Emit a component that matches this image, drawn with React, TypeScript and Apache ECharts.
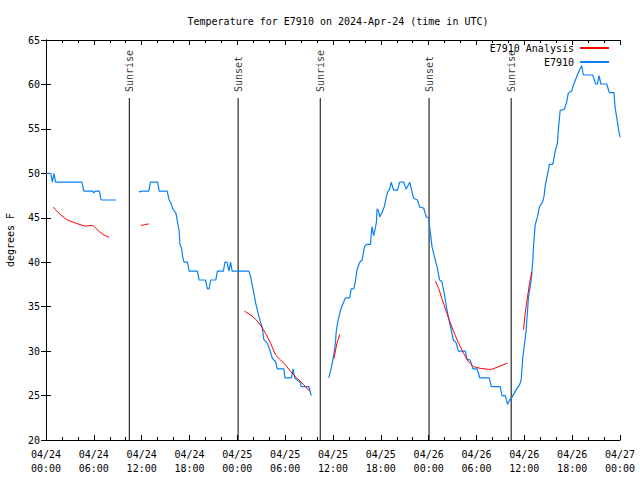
import React, { useEffect, useRef } from "react";
import * as echarts from "echarts";

// ---- data (x in hours since 2024-04-24 00:00 UTC, y in degrees F) ----
const GAP = "-";
const obsHours: number[] = [
  0.0, 0.6, 0.8, 1.0, 1.2, 4.5, 4.75, 5.85, 6.0, 6.15, 6.7, 6.9, 8.8,
  9.5,
  11.68, 11.8, 12.0, 12.9, 13.1, 14.0, 14.2, 15.2, 15.45, 15.7, 15.9, 16.3, 16.5, 16.7, 16.8, 17.0, 17.15, 17.3, 17.75, 17.95,
  19.0, 19.2, 20.0, 20.25, 20.45, 20.65, 21.3, 21.5, 22.25, 22.45, 22.7, 22.95, 23.15, 23.35, 25.45, 25.65, 26.08, 26.3, 26.7,
  27.13, 27.33, 27.76, 28.09, 28.39, 28.8, 29.0, 29.84, 29.96, 30.77, 31.0, 31.18, 31.93, 32.0, 32.97, 33.27,
  34.0,
  35.48, 35.9, 36.1, 36.3, 36.4, 36.6, 36.94, 37.15, 37.57, 38.1, 38.28, 38.6, 38.8, 39.0, 39.35, 39.66, 39.95, 40.2, 40.7,
  40.8, 40.9, 41.1, 41.3, 41.45, 41.53, 41.74, 41.86, 42.16, 42.45, 42.7, 42.9, 43.1, 43.3, 43.6, 44.1, 44.36, 44.87, 45.17,
  45.62, 46.1, 46.6, 46.87, 47.37, 47.7, 48.0, 48.12, 48.42, 48.83, 49.05, 49.37, 49.66, 49.96, 50.3, 50.7, 51.1, 51.47, 51.7,
  52.6, 52.8, 53.2, 53.55, 54.1, 54.4, 55.6, 55.85, 56.97, 57.2, 57.6, 57.9, 58.15, 58.44, 59.0, 59.4, 59.6, 59.8, 59.98, 60.23,
  60.52, 60.8, 60.94, 61.06, 61.15, 61.36, 61.65, 61.9, 62.3, 62.5, 62.6, 62.8, 63.15, 63.57, 63.86, 64.15, 64.27, 64.5, 65.0,
  65.33, 65.5, 65.95, 66.16, 66.58, 67.0, 67.2, 67.4, 68.58, 68.95, 69.17, 69.37, 69.6, 70.33, 70.67, 71.25, 71.37, 71.6, 71.8, 72.0,
];
const obsTemps: (number | string)[] = [
  50, 50, 49, 50, 49, 49, 48, 48, 47.8, 48, 48, 47, 47,
  GAP,
  48, 47.9, 48, 48, 49, 49, 48, 48, 47, 46.6, 46, 45.5, 44.5, 43.5, 42, 41.6, 40.6, 40, 40, 39,
  39, 38, 38, 37, 37, 38, 38, 39, 39, 40, 40, 39, 40, 39, 39, 38.4, 36.5, 35.4, 33.9,
  32.6, 31.3, 30.9, 30.1, 29.2, 28.8, 28, 28, 27, 27, 28, 27, 26.4, 26, 26, 25,
  GAP,
  27, 28.6, 29.6, 30.9, 32.2, 33.3, 34.6, 35.1, 36, 36, 37, 37, 37.8, 39.1, 40, 40.25, 41.75, 42, 42,
  43.25, 44, 43, 43.8, 44.5, 46, 45.7, 45.1, 45.6, 46.3, 47.4, 48, 48.2, 49, 48.1, 48.1, 49, 49, 48.2,
  49, 47.2, 47, 46.2, 46.1, 45.1, 45, 44, 41.75, 40.25, 39.5, 38, 37.8, 36.5, 34.6, 32.9, 31.25, 30.9, 30,
  30, 29.1, 29, 28, 28, 27, 27, 26, 26, 25, 25, 24, 24.5, 24.8, 25.7, 26.2, 26.75, 29.2, 30.5, 32.4,
  36.1, 37.6, 38.75, 40.25, 41.75, 44.2, 45.1, 46.25, 46.8, 47.56, 48.5, 49.44, 51, 51, 52.44, 53.4, 54.9, 57.1, 57.2,
  58.06, 59, 59.3, 59.94, 60.9, 61.8, 62.1, 61.06, 61.06, 60.05, 60.05, 61, 60.05, 60.05, 59.07, 59.07, 57.5, 56.2, 55.06, 54.05,
];

const anaHours: number[] = [
  0.92, 1.3, 1.88, 2.3, 2.7, 3.55, 4.38, 5.0, 5.3, 5.63, 5.85, 6.05, 6.68, 7.3, 7.93,
  9.5,
  11.9, 12.3, 12.4, 12.9,
  18.0,
  24.9, 25.67, 26.3, 26.9, 27.55, 28.17, 28.8, 29.43, 30.05, 30.68, 31.5, 32.35, 33.1,
  34.5,
  36.1, 36.5, 36.85,
  42.0,
  48.83, 49.25, 49.66, 50.08, 50.5, 51.12, 51.75, 52.38, 53.0, 53.63, 54.47, 55.5, 55.93, 56.76, 57.89,
  58.5,
  59.9, 60.1, 60.4, 60.65, 60.94,
];
const anaTemps: (number | string)[] = [
  46.2, 45.8, 45.3, 45.0, 44.75, 44.45, 44.2, 44.05, 44.1, 44.15, 44.1, 44.0, 43.45, 43.05, 42.8,
  GAP,
  44.15, 44.2, 44.25, 44.3,
  GAP,
  34.5, 34.06, 33.58, 32.94, 32.0, 30.88, 29.56, 29.0, 28.44, 27.7, 26.94, 26.2, 25.45,
  GAP,
  29.1, 30.9, 31.9,
  GAP,
  37.9, 37.06, 35.9, 34.8, 33.7, 32.2, 30.9, 29.75, 28.8, 28.25, 28.06, 27.95, 27.95, 28.25, 28.65,
  GAP,
  32.4, 34.25, 36.1, 37.6, 38.9,
];

const sunHours: number[] = [10.45, 24.1, 34.4, 48.05, 58.35];
const sunNames: string[] = ["Sunrise", "Sunset", "Sunrise", "Sunset", "Sunrise"];
const SUN_LINE_TOP = 58.47;

const yTicks = { min: 20, max: 65, step: 5 };
const xTicks = { min: 0, max: 72, step: 6 };
const START_DAY = 24;
const MONTH = "04";

const FONT = "'DejaVu Sans Mono', 'Liberation Mono', monospace";
const pad = (n: number) => (n < 10 ? "0" + n : "" + n);

export default function App() {
  const ref = useRef<HTMLDivElement>(null);
  useEffect(() => {
    if (!ref.current) return;
    const chart = echarts.init(ref.current, undefined, { renderer: "svg" });
    const obsData = obsHours.map((h, i) => [h, obsTemps[i]]);
    const anaData = anaHours.map((h, i) => [h, anaTemps[i]]);

    const sunSeries: any[] = sunHours.map((h) => ({
      type: "line",
      name: "sun",
      data: [
        [h, yTicks.min],
        [h, SUN_LINE_TOP],
      ],
      symbol: "none",
      lineStyle: { color: "#000", width: 1 },
      silent: true,
      z: 1,
    }));

    const axisText = { color: "#000", fontFamily: FONT, fontSize: 10 };

    chart.setOption({
      animation: false,
      backgroundColor: "#fff",
      title: {
        text: "Temperature for E7910 on 2024-Apr-24 (time in UTC)",
        left: 333,
        top: 11,
        textAlign: "center",
        textStyle: { ...axisText, fontWeight: "normal" },
      },
      legend: {
        data: ["E7910 Analysis", "E7910"],
        orient: "vertical",
        right: 30,
        top: 43,
        padding: 0,
        align: "right",
        itemWidth: 29,
        itemHeight: 10,
        itemGap: 4,
        itemStyle: { opacity: 0 },
        textStyle: { ...axisText, padding: [0, 1, 0, 0] },
      },
      grid: {
        left: 46,
        right: 20,
        top: 40,
        bottom: 40,
        show: false,
        containLabel: false,
        outerBoundsMode: "none",
      },
      xAxis: [
        {
          type: "value",
          min: xTicks.min,
          max: xTicks.max,
          interval: xTicks.step,
          position: "bottom",
          axisLine: { show: true, lineStyle: { color: "#000", width: 1 } },
          axisTick: { show: true, inside: true, length: 5, lineStyle: { color: "#000" } },
          minorTick: { show: true, splitNumber: 3, length: 3, lineStyle: { color: "#000" } },
          splitLine: { show: false },
          axisLabel: {
            ...axisText,
            margin: 7,
            lineHeight: 14,
            formatter: (v: number) => {
              const d = START_DAY + Math.floor(v / 24);
              const hh = v % 24;
              return `${MONTH}/${d}\n${pad(hh)}:00`;
            },
          },
        },
        {
          type: "value",
          min: xTicks.min,
          max: xTicks.max,
          interval: xTicks.step,
          position: "top",
          axisLine: { show: true, lineStyle: { color: "#000", width: 1 } },
          axisTick: { show: true, inside: true, length: 5, lineStyle: { color: "#000" } },
          minorTick: { show: true, splitNumber: 3, length: 3, lineStyle: { color: "#000" } },
          splitLine: { show: false },
          axisLabel: { show: false },
        },
      ],
      yAxis: [
        {
          type: "value",
          min: yTicks.min,
          max: yTicks.max,
          interval: yTicks.step,
          position: "left",
          name: "degrees F",
          nameLocation: "middle",
          nameRotate: 90,
          nameGap: 31,
          nameTextStyle: { ...axisText },
          axisLine: { show: true, lineStyle: { color: "#000", width: 1 } },
          axisTick: { show: true, inside: true, length: 5, lineStyle: { color: "#000" } },
          splitLine: { show: false },
          axisLabel: { ...axisText, margin: 6 },
        },
        {
          type: "value",
          min: yTicks.min,
          max: yTicks.max,
          interval: yTicks.step,
          position: "right",
          axisLine: { show: true, lineStyle: { color: "#000", width: 1 } },
          axisTick: { show: true, inside: true, length: 5, lineStyle: { color: "#000" } },
          splitLine: { show: false },
          axisLabel: { show: false },
        },
      ],
      series: [
        ...sunSeries,
        {
          type: "scatter",
          name: "sunLabels",
          data: sunHours.map((h, i) => ({ value: [h, SUN_LINE_TOP], name: sunNames[i] })),
          symbolSize: 0,
          silent: true,
          label: {
            show: true,
            position: "top",
            distance: 6,
            rotate: 90,
            align: "left",
            verticalAlign: "middle",
            formatter: (p: any) => p.name,
            ...axisText,
          },
        },
        {
          type: "line",
          name: "E7910 Analysis",
          data: anaData,
          symbol: "none",
          connectNulls: false,
          lineStyle: { color: "#ff0000", width: 1 },
          itemStyle: { color: "#ff0000" },
          z: 4,
        },
        {
          type: "line",
          name: "E7910",
          data: obsData,
          symbol: "none",
          connectNulls: false,
          lineStyle: { color: "#0a80f5", width: 1.2 },
          itemStyle: { color: "#0a80f5" },
          z: 3,
        },
      ],
    });
    return () => chart.dispose();
  }, []);
  return <div ref={ref} style={{ width: 640, height: 480, position: "absolute", left: 0, top: 0 }} />;
}
